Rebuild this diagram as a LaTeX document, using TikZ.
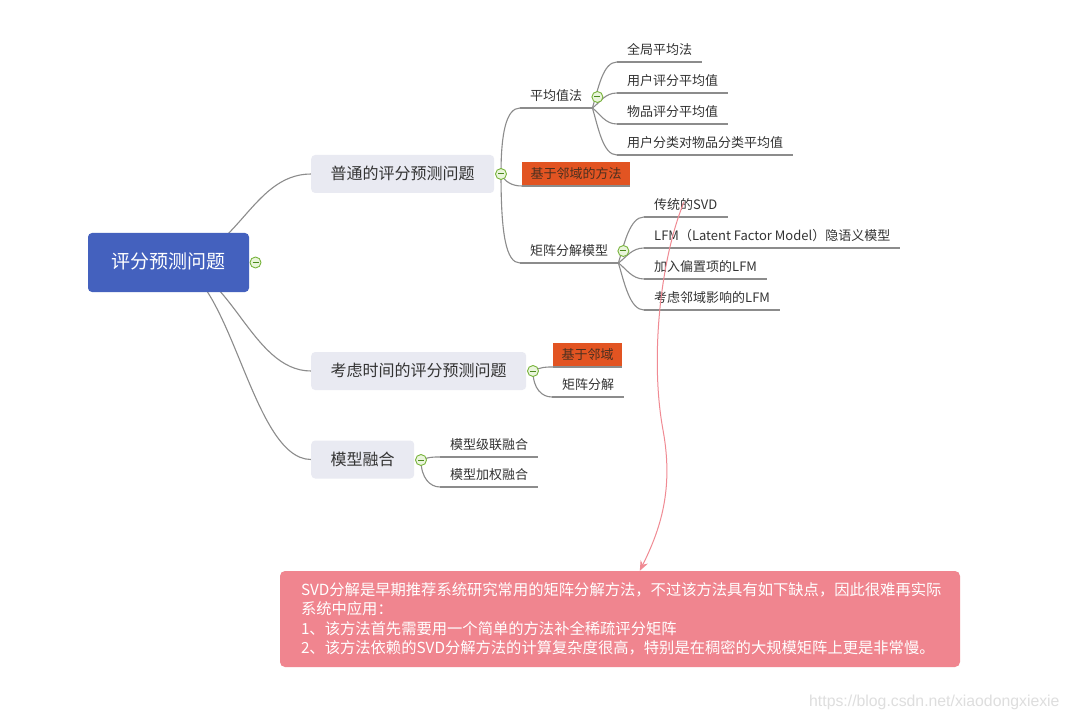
\documentclass[tikz,border=0pt]{standalone}
\usepackage{fontspec}
\setmainfont{Noto Sans CJK SC}
\newfontfamily\wmfont{Liberation Sans}
\usetikzlibrary{arrows.meta,calc,backgrounds}
\definecolor{rootblue}{HTML}{4461BE}
\definecolor{topicfill}{HTML}{E9EAF2}
\definecolor{hlorange}{HTML}{E25422}
\definecolor{hltext}{HTML}{4A3020}
\definecolor{linegray}{HTML}{8C8C8C}
\definecolor{txt}{HTML}{333333}
\definecolor{toggreen}{HTML}{78B43C}
\definecolor{togfill}{HTML}{EAF5DC}
\definecolor{togminus}{HTML}{4C8A1E}
\definecolor{notepink}{HTML}{F0858F}
\definecolor{arrowpink}{HTML}{F08A93}
\definecolor{wmgray}{HTML}{DEDEDE}
\begin{document}
\begin{tikzpicture}[x=1pt,y=-1pt,
  rootbox/.style={fill=rootblue, rounded corners=4pt, minimum width=161pt, minimum height=59pt,
    text=white, font=\fontsize{19}{22}\selectfont, text height=16pt, text depth=3pt, inner sep=0pt},
  topic/.style={anchor=west, fill=topicfill, rounded corners=4pt, minimum height=38pt, inner xsep=19.5pt,
    inner ysep=0pt, text=txt, font=\fontsize{16}{19}\selectfont, text height=13.5pt, text depth=2.5pt},
  sub/.style={anchor=south west, inner xsep=10pt, inner ysep=5pt, text=txt,
    font=\fontsize{13}{16}\selectfont, text height=11pt, text depth=2pt},
  hl/.style={anchor=south west, fill=hlorange, inner xsep=8.5pt, inner ysep=0pt, minimum height=24pt,
    text=hltext, font=\fontsize{13}{16}\selectfont, text height=10.5pt, text depth=1pt},
  tog/.style={circle, draw=toggreen, fill=togfill, line width=0.9pt, minimum size=11pt, inner sep=0pt},
  link/.style={draw=linegray, line width=1.1pt},
  uline/.style={draw=linegray, line width=1.1pt},
  note/.style={fill=notepink, rounded corners=5pt, minimum width=680pt, minimum height=96pt,
    text width=638pt, inner xsep=21pt, align=left, text=white, font=\fontsize{15.3}{19.5}\selectfont},
  notearrow/.style={draw=arrowpink, line width=1pt, -{Stealth[length=10pt,width=8pt]}}
]
\useasboundingbox (0,0) rectangle (1070,719);

% main nodes
\node[rootbox] (root) at (168.5,262.5) {评分预测问题};
\node[topic] (t1) at (311,174) {普通的评分预测问题};
\node[topic] (t2) at (311,371) {考虑时间的评分预测问题};
\node[topic] (t3) at (311,459.5) {模型融合};

% level 2
\node[sub] (avg) at (520,108) {平均值法};
\node[hl] (nb1) at (522,186) {基于邻域的方法};
\node[sub] (mf) at (520,263) {矩阵分解模型};
\node[hl] (nb2) at (553,367) {基于邻域};
\node[sub] (mf2) at (552,397) {矩阵分解};
\node[sub] (f1) at (440,457) {模型级联融合};
\node[sub] (f2) at (440,487) {模型加权融合};

% leaves
\node[sub] (a1) at (617,62) {全局平均法};
\node[sub] (a2) at (617,93) {用户评分平均值};
\node[sub] (a3) at (617,124) {物品评分平均值};
\node[sub] (a4) at (617,155) {用户分类对物品分类平均值};
\node[sub] (m1) at (644,217) {传统的SVD};
\node[sub] (m2) at (644,248) {LFM（Latent Factor Model）隐语义模型};
\node[sub] (m3) at (644,279) {加入偏置项的LFM};
\node[sub] (m4) at (644,310) {考虑邻域影响的LFM};

% toggles
\node[tog] (c0) at (255.5,262.5) {};
\node[tog] (c1) at (501,174) {};
\node[tog] (c2) at (533,371) {};
\node[tog] (c3) at (421,460) {};
\node[tog] (c4) at ($(avg.south east)+(5,-11)$) {};
\node[tog] (c5) at ($(mf.south east)+(5,-12)$) {};
\foreach \c in {c0,c1,c2,c3,c4,c5}
  \draw[togminus, line width=1pt] ([xshift=-3pt]\c.center) -- ([xshift=3pt]\c.center);

% underlines
\foreach \n in {avg,nb1,mf,nb2,mf2,f1,f2,a1,a2,a3,a4,m1,m2,m3,m4}
  \draw[uline] (\n.south west) -- (\n.south east);

% connectors
\begin{scope}[on background layer]
\fill[white] (0,0) rectangle (1070,719);
\draw[link] (root.center) .. controls +(68,0) and +(-61,0) .. (t1.west);
\draw[link] (root.center) .. controls +(62,0) and +(-61,0) .. (t2.west);
\draw[link] (root.center) .. controls +(62,0) and +(-61,0) .. (t3.west);

\draw[link] (c1.center) .. controls +(0,-40) and +(-14,0) .. (avg.south west);
\draw[link] (c1.center) .. controls +(4,8) and +(-10,0) .. (nb1.south west);
\draw[link] (c1.center) .. controls +(0,60) and +(-14,0) .. (mf.south west);

\draw[link] (c2.center) .. controls +(8,-4) and +(-8,0) .. (nb2.south west);
\draw[link] (c2.center) .. controls +(0,18) and +(-10,0) .. (mf2.south west);

\draw[link] (c3.center) .. controls +(8,-3) and +(-8,0) .. (f1.south west);
\draw[link] (c3.center) .. controls +(0,18) and +(-10,0) .. (f2.south west);

\draw[link] (avg.south east) .. controls +(6,-20) and +(-14,0) .. (a1.south west);
\draw[link] (avg.south east) .. controls +(8,-6) and +(-12,0) .. (a2.south west);
\draw[link] (avg.south east) .. controls +(8,6) and +(-12,0) .. (a3.south west);
\draw[link] (avg.south east) .. controls +(6,20) and +(-14,0) .. (a4.south west);

\draw[link] (mf.south east) .. controls +(6,-20) and +(-14,0) .. (m1.south west);
\draw[link] (mf.south east) .. controls +(8,-6) and +(-12,0) .. (m2.south west);
\draw[link] (mf.south east) .. controls +(8,6) and +(-12,0) .. (m3.south west);
\draw[link] (mf.south east) .. controls +(6,20) and +(-14,0) .. (m4.south west);
\end{scope}

% note
\node[note] (note) at (620,619) {SVD分解是早期推荐系统研究常用的矩阵分解方法，不过该方法具有如下缺点，因此很难再实际\\
系统中应用：\\
1、该方法首先需要用一个简单的方法补全稀疏评分矩阵\\
2、该方法依赖的SVD分解方法的计算复杂度很高，特别是在稠密的大规模矩阵上更是非常慢。};

\coordinate (svdpt) at ($(m1.south west)+(40,-15)$);
\coordinate (noteend) at ($(note.north west)+(360,0)$);
\draw[notearrow] (svdpt) .. controls (660,260) and (650,360) .. (663,430)
  .. controls (674,490) and (660,530) .. (noteend);

% watermark
\node[anchor=west, inner sep=0pt, text=wmgray, font=\wmfont\fontsize{15.8}{17}\selectfont] (wm) at (809,702) {https://blog.csdn.net/xiaodongxiexie};
\end{tikzpicture}
\end{document}
